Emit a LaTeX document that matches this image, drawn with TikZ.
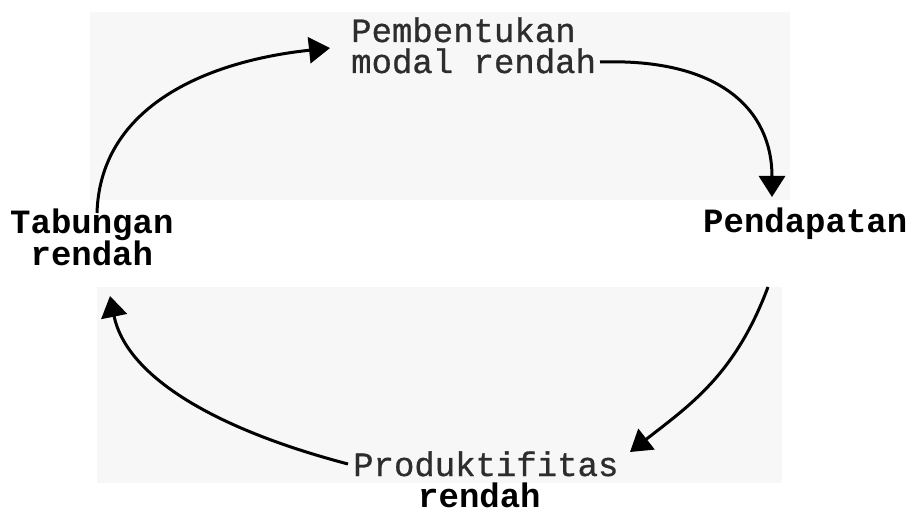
\documentclass[tikz,border=0pt]{standalone}
\usepackage{fontspec}
\usetikzlibrary{arrows.meta}
\newfontfamily\typeA[FakeBold=0.8]{Liberation Mono}
\newfontfamily\typeB{Liberation Mono Bold}
\definecolor{paper}{RGB}{247,247,247}
\definecolor{ink}{RGB}{45,45,45}
\tikzset{
  lbl/.style={inner sep=0pt, anchor=base west, align=left, text=ink, font=\typeA\fontsize{34}{31}\selectfont},
  lblb/.style={inner sep=0pt, anchor=base west, align=left, font=\typeB\fontsize{34}{32}\selectfont},
  flow/.style={line width=3pt, -{Triangle[length=21pt,width=26pt]}},
}
\begin{document}
\begin{tikzpicture}[x=1pt,y=-1pt]
\useasboundingbox (0,0) rectangle (912,513);
\fill[paper] (90,12) rectangle (790,200);
\fill[paper] (97,287) rectangle (782,483);
% labels (base = last line)
\node[lbl] (pm) at (351,73) {Pembentukan\\modal rendah};
\node[lblb] (tb) at (10,265) {Tabungan\\\ rendah};
\node[lblb] (pd) at (703,232) {Pendapatan};
\node[lbl] (pr) at (353,476) {Produktifitas};
\node[lblb] (pr2) at (418,507) {rendah};
% connector end points
\coordinate (a1) at (97,213);
\coordinate (b1) at (330,48);
\coordinate (a2) at (600,62);
\coordinate (b2) at (772,197);
\coordinate (a3) at (768,287);
\coordinate (b3) at (630,452);
\coordinate (a4) at (348,464);
\coordinate (b4) at (110,296);
% connectors
\draw[flow] (a1) .. controls (100,110) and (200,62) .. (b1);
\draw[flow] (a2) .. controls (720,58) and (772,110) .. (b2);
\draw[flow] (a3) .. controls (735,375) and (690,405) .. (b3);
\draw[flow] (a4) .. controls (200,425) and (125,370) .. (b4);
\end{tikzpicture}
\end{document}
